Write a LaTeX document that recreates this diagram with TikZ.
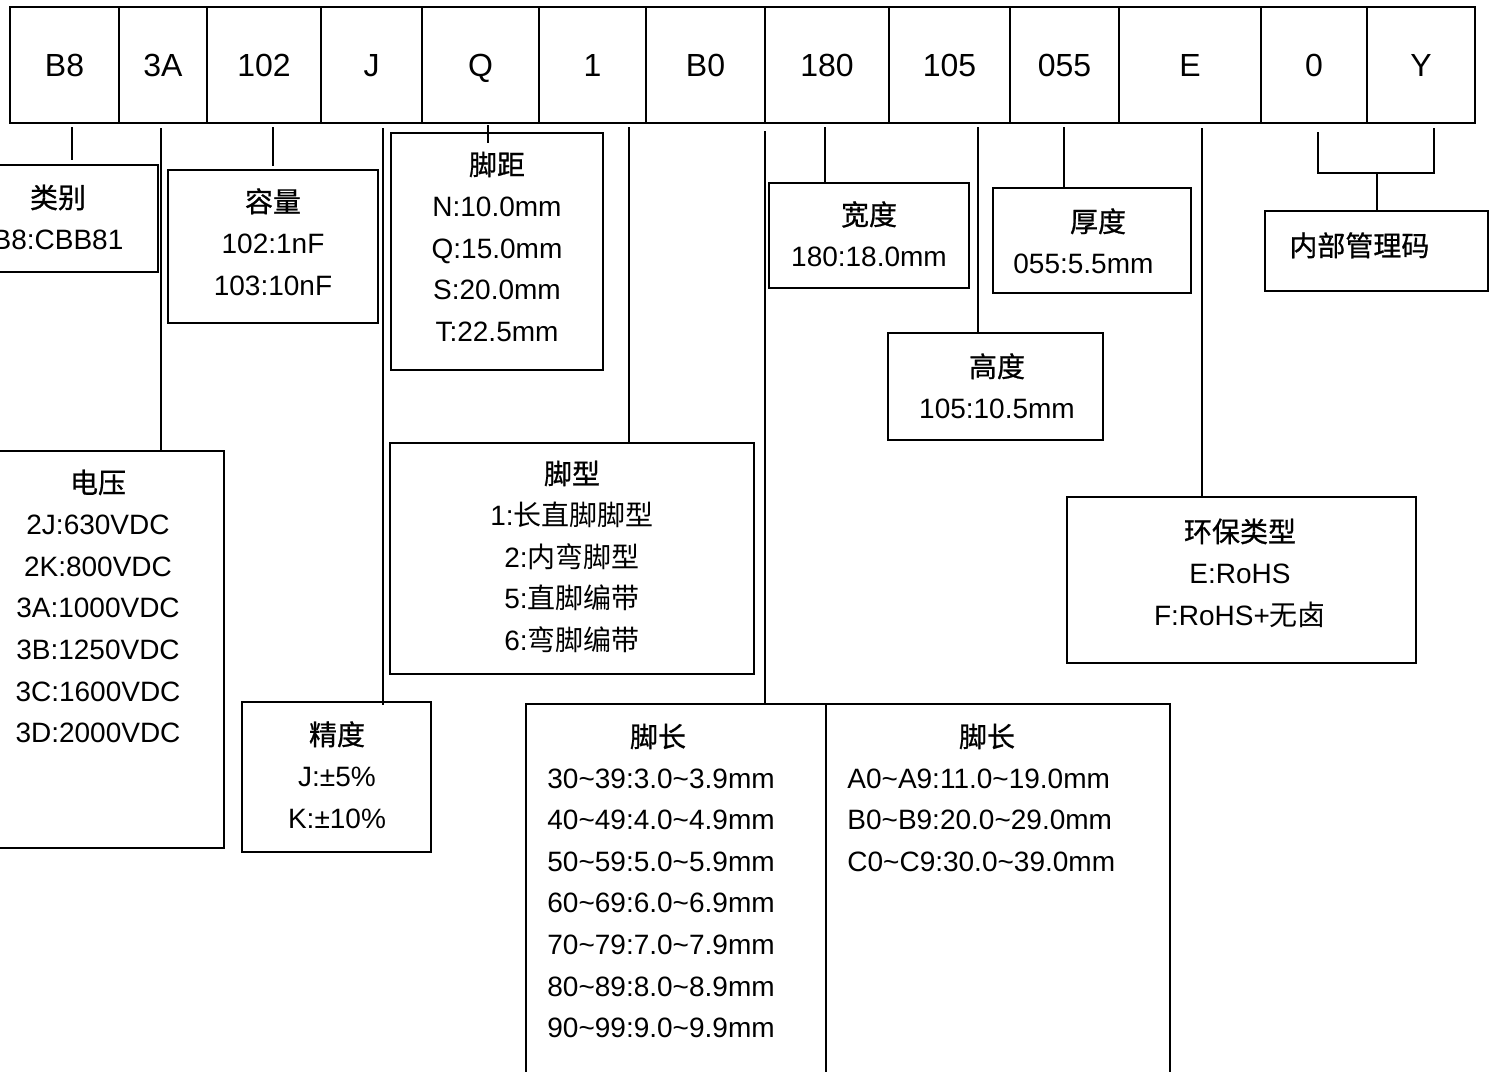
\documentclass[tikz,border=0pt]{standalone}
\usepackage{fontspec}
\setmainfont{Liberation Sans}
\newfontfamily\cjk{Noto Sans CJK SC}
\newfontfamily\cjkh{Noto Sans CJK SC}[FakeBold=0.8]
\newcommand\tld{\textasciitilde}
\newcommand\mkbox[5]{\node[box, minimum width={(#4-#2)*0.5pt}, minimum height={(#5-#3)*0.5pt}] (#1) at ({(#2+#4)/2},{(#3+#5)/2}) {};}
\begin{document}
\begin{tikzpicture}[x=0.5pt,y=-0.5pt,
  box/.style={draw, line width=1.2pt, inner sep=0pt},
  cell/.style={draw, line width=1pt, inner sep=0pt, text height=11.46pt, text depth=0pt, font=\fontsize{16pt}{18pt}\selectfont},
  conn/.style={line width=1.1pt},
  lbl/.style={anchor=base, inner sep=0pt, font=\fontsize{14pt}{16pt}\selectfont},
  lbll/.style={lbl, anchor=base west}]
\useasboundingbox (0,0) rectangle (1496,1072);
\fill[white] (0,0) rectangle (1496,1072);
\clip (0,0) rectangle (1496,1072);

% top row of code cells
\foreach \a/\b/\t [count=\i] in {10/119/B8, 119/207/3A, 207/321/102, 321/422/J, 422/539/Q, 539/646/1, 646/765/B0, 765/889/180, 889/1010/105, 1010/1119/055, 1119/1261/E, 1261/1367/0, 1367/1475/Y}
  \node[cell, minimum width={(\b-\a)*0.5pt}, minimum height=58pt] (c\i) at ({(\a+\b)/2},65) {\t};

% boxes
\mkbox{lb}{-40}{165}{158}{272}
\mkbox{dy}{-30}{451}{224}{848}
\mkbox{rl}{168}{170}{378}{323}
\mkbox{jd}{242}{702}{431}{852}
\mkbox{jj}{391}{133}{603}{370}
\mkbox{jx}{390}{443}{754}{674}
\mkbox{jcl}{526}{704}{826}{1090}
\mkbox{jcr}{826}{704}{1170}{1090}
\mkbox{kd}{769}{183}{969}{288}
\mkbox{gd}{888}{333}{1103}{440}
\mkbox{hd}{993}{188}{1191}{293}
\mkbox{hb}{1067}{497}{1416}{663}
\mkbox{nb}{1265}{211}{1488}{291}

% texts
\foreach \t [count=\i from 0] in {{\cjkh 类别}, B8:CBB81}
  \node[lbl] (tlb\i) at (58,{208+41.6*\i}) {\t};
\foreach \t [count=\i from 0] in {{\cjkh 电压}, 2J:630VDC, 2K:800VDC, 3A:1000VDC, 3B:1250VDC, 3C:1600VDC, 3D:2000VDC}
  \node[lbl] (tdy\i) at (98,{493+41.6*\i}) {\t};
\foreach \t [count=\i from 0] in {{\cjkh 容量}, 102:1nF, 103:10nF}
  \node[lbl] (trl\i) at (273,{212+41.6*\i}) {\t};
\foreach \t [count=\i from 0] in {{\cjkh 精度}, J:±5\%, K:±10\%}
  \node[lbl] (tjd\i) at (337,{745+41.6*\i}) {\t};
\foreach \t [count=\i from 0] in {{\cjkh 脚距}, N:10.0mm, Q:15.0mm, S:20.0mm, T:22.5mm}
  \node[lbl] (tjj\i) at (497,{175+41.6*\i}) {\t};
\foreach \t [count=\i from 0] in {{\cjkh 脚型}, 1:{\cjk 长直脚脚型}, 2:{\cjk 内弯脚型}, 5:{\cjk 直脚编带}, 6:{\cjk 弯脚编带}}
  \node[lbl] (tjx\i) at (572,{484+41.6*\i}) {\t};
\node[lbl] (tjcl) at (658,747) {\cjkh 脚长};
\foreach \t [count=\i from 0] in {30\tld 39:3.0\tld 3.9mm, 40\tld 49:4.0\tld 4.9mm, 50\tld 59:5.0\tld 5.9mm, 60\tld 69:6.0\tld 6.9mm, 70\tld 79:7.0\tld 7.9mm, 80\tld 89:8.0\tld 8.9mm, 90\tld 99:9.0\tld 9.9mm}
  \node[lbll] (tjcl\i) at (547,{788+41.6*\i}) {\t};
\node[lbl] (tjcr) at (987,747) {\cjkh 脚长};
\foreach \t [count=\i from 0] in {A0\tld A9:11.0\tld 19.0mm, B0\tld B9:20.0\tld 29.0mm, C0\tld C9:30.0\tld 39.0mm}
  \node[lbll] (tjcr\i) at (847,{788+41.6*\i}) {\t};
\foreach \t [count=\i from 0] in {{\cjkh 宽度}, 180:18.0mm}
  \node[lbl] (tkd\i) at (869,{225+41.6*\i}) {\t};
\foreach \t [count=\i from 0] in {{\cjkh 高度}, 105:10.5mm}
  \node[lbl] (tgd\i) at (997,{377+41.6*\i}) {\t};
\node[lbl] (thd0) at (1098,232) {\cjkh 厚度};
\node[lbll] (thd1) at (1013,273) {055:5.5mm};
\foreach \t [count=\i from 0] in {{\cjkh 环保类型}, E:RoHS, F:RoHS+{\cjk 无卤}}
  \node[lbl] (thb\i) at (1240,{542+41.6*\i}) {\t};
\node[lbll] (tnb) at (1289,256) {\cjkh 内部管理码};

% connectors
\coordinate (a1) at (72,127);   \coordinate (a1e) at (72,160);
\draw[conn] (a1) -- (a1e);
\coordinate (a2) at (161,128);
\draw[conn] (a2) -- (a2 |- dy.north);
\coordinate (a3) at (273,127);  \coordinate (a3e) at (273,166);
\draw[conn] (a3) -- (a3e);
\coordinate (a4) at (383,128);  \coordinate (a4e) at (383,705);
\draw[conn] (a4) -- (a4e);
\coordinate (a5) at (488,125);  \coordinate (a5e) at (488,143);
\draw[conn] (a5) -- (a5e);
\coordinate (a6) at (629,127);
\draw[conn] (a6) -- (a6 |- jx.north);
\coordinate (a7) at (765,131);
\draw[conn] (a7) -- (a7 |- jcl.north);
\coordinate (a8) at (825,127);
\draw[conn] (a8) -- (a8 |- kd.north);
\coordinate (a9) at (978,127);
\draw[conn] (a9) -- (a9 |- gd.north);
\coordinate (a10) at (1064,127);
\draw[conn] (a10) -- (a10 |- hd.north);
\coordinate (a11) at (1202,128);
\draw[conn] (a11) -- (a11 |- hb.north);
\coordinate (bl) at (1318,132);
\coordinate (br) at (1434,128);
\coordinate (bm) at (1377,173);
\draw[conn] (bl) |- (bm) -| (br);
\draw[conn] (bm) -- (bm |- nb.north);
\end{tikzpicture}
\end{document}
